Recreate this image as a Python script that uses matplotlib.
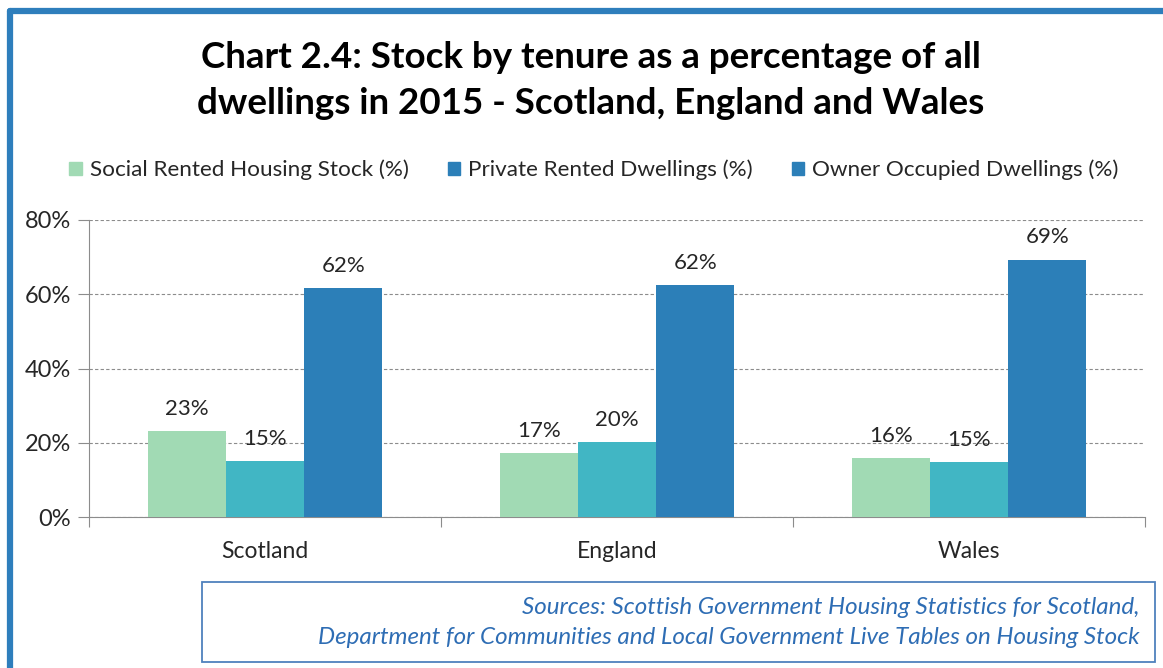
import matplotlib
matplotlib.use("Agg")
import matplotlib.pyplot as plt
import numpy as np
from matplotlib.patches import Patch, Rectangle
from matplotlib.lines import Line2D
from matplotlib.ticker import FuncFormatter, MultipleLocator

countries = ["Scotland", "England", "Wales"]
series_names = [
    "Social Rented Housing Stock (%)",
    "Private Rented Dwellings (%)",
    "Owner Occupied Dwellings (%)",
]
social_rented = [23.2, 17.2, 15.9]
private_rented = [15.1, 20.2, 14.8]
owner_occupied = [61.7, 62.5, 69.3]
value_labels = [
    ["23%", "17%", "16%"],
    ["15%", "20%", "15%"],
    ["62%", "62%", "69%"],
]

bar_colors = ["#a1dab4", "#41b6c4", "#2c7fb8"]
legend_colors = ["#a1dab4", "#2c7fb8", "#2c7fb8"]
frame_blue = "#2e7ebc"

plt.rcParams["font.family"] = ["Lato", "DejaVu Sans"]

W, H = 1163, 668
fig = plt.figure(figsize=(W / 100, H / 100), dpi=100)

# outer blue frame (left and top edges visible)
fig.add_artist(Line2D([10 / W, 10 / W], [0, 1 - 11 / H], transform=fig.transFigure,
                      color=frame_blue, lw=4.5, solid_capstyle="round"))
fig.add_artist(Line2D([10 / W, 1], [1 - 11 / H, 1 - 11 / H], transform=fig.transFigure,
                      color=frame_blue, lw=4.5, solid_capstyle="round"))

ax = fig.add_axes([89 / W, 1 - 517 / H, (1145 - 89) / W, (517 - 220) / H])

x = np.arange(len(countries))
width = 1 / 4.5
all_series = [social_rented, private_rented, owner_occupied]
for i, vals in enumerate(all_series):
    pos = x + (i - 1) * width
    ax.bar(pos, vals, width, color=bar_colors[i], zorder=3)
    for xp, v, lab in zip(pos, vals, value_labels[i]):
        ax.text(xp, v + 3.3, lab, ha="center", va="bottom", fontsize=16, color="#262626")

ax.set_xlim(-0.5, 2.5)
ax.set_ylim(0, 80)
ax.yaxis.set_major_locator(MultipleLocator(20))
ax.yaxis.set_major_formatter(FuncFormatter(lambda v, p: f"{v:.0f}%"))
ax.set_xticks([-0.5, 0.5, 1.5, 2.5])
ax.set_xticklabels([])
ax.set_xticks(x, minor=True)
ax.set_xticklabels(countries, minor=True)
ax.tick_params(axis="x", which="minor", length=0, pad=17, labelsize=16.5, labelcolor="#262626")
ax.tick_params(axis="x", which="major", length=7, color="#8c8c8c", direction="out")
ax.tick_params(axis="y", length=8, color="#8c8c8c", labelsize=17, labelcolor="#262626", pad=5)

ax.grid(axis="y", linestyle=(0, (3, 2)), color="#8c8c8c", lw=0.8, zorder=0)
for side in ["top", "right"]:
    ax.spines[side].set_visible(False)
for side in ["left", "bottom"]:
    ax.spines[side].set_color("#8c8c8c")

fig.text(591 / W, 1 - 57 / H, "Chart 2.4: Stock by tenure as a percentage of all",
         ha="center", va="center", fontsize=26.5, fontweight="bold", color="black")
fig.text(591 / W, 1 - 103 / H, "dwellings in 2015 - Scotland, England and Wales",
         ha="center", va="center", fontsize=26.5, fontweight="bold", color="black")

handles = [Patch(color=c) for c in legend_colors]
fig.legend(handles, series_names, loc="center", bbox_to_anchor=(594 / W, 1 - 170 / H),
           ncol=3, frameon=False, fontsize=16.2, handlelength=0.55, handleheight=0.55,
           handletextpad=0.35, columnspacing=1.75, labelcolor="#262626",
           borderaxespad=0, borderpad=0)

# sources box
fig.add_artist(Rectangle((202 / W, 1 - 662 / H), (1155 - 202) / W, 80 / H,
                         transform=fig.transFigure, fill=False, edgecolor="#4f81bd", lw=1.3))
fig.text(1140 / W, 1 - 607 / H,
         "Sources: Scottish Government Housing Statistics for Scotland,",
         ha="right", va="center", fontsize=17.4, style="italic", color="#2e6db4")
fig.text(1140 / W, 1 - 637 / H,
         "Department for Communities and Local Government Live Tables on Housing Stock",
         ha="right", va="center", fontsize=17.4, style="italic", color="#2e6db4")

fig.savefig("out.png", dpi=100)
